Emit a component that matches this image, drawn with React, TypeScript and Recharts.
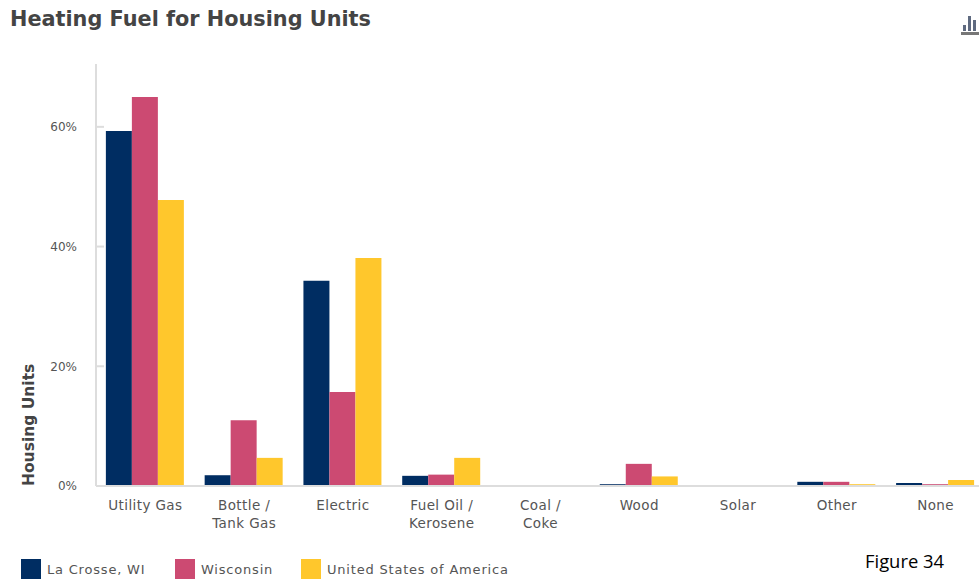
import { BarChart, Bar, XAxis, YAxis, Legend } from 'recharts'

const categories = [
  'Utility Gas',
  'Bottle /\nTank Gas',
  'Electric',
  'Fuel Oil /\nKerosene',
  'Coal /\nCoke',
  'Wood',
  'Solar',
  'Other',
  'None',
]
const laCrosse = [59.3, 1.8, 34.3, 1.7, 0, 0.3, 0, 0.7, 0.5]
const wisconsin = [65, 11, 15.7, 1.9, 0, 3.7, 0, 0.7, 0.3]
const usa = [47.8, 4.7, 38.1, 4.7, 0, 1.6, 0, 0.3, 1]
const yTicks = [0, 20, 40, 60]

const FONT = '"DejaVu Sans", sans-serif'
const TEXT = '#555'
const AXIS = '#ddd'

const data = categories.map((name, i) => ({
  name,
  laCrosse: laCrosse[i],
  wisconsin: wisconsin[i],
  usa: usa[i],
}))

const legendItems = [
  { label: 'La Crosse, WI', color: '#002d62', left: 21 },
  { label: 'Wisconsin', color: '#cc4a72', left: 175 },
  { label: 'United States of America', color: '#ffc72c', left: 301 },
]

function CategoryTick({ x, y, payload }: any) {
  const lines = String(payload.value).split('\n')
  return (
    <text
      x={x}
      y={y}
      textAnchor="middle"
      fontFamily={FONT}
      fontSize={13.5}
      letterSpacing={0.4}
      fill={TEXT}
    >
      {lines.map((line, i) => (
        <tspan key={line} x={x} dy={i === 0 ? 16 : 18}>
          {line}
        </tspan>
      ))}
    </text>
  )
}

function ChartLegend() {
  return (
    <div style={{ position: 'relative', height: 20 }}>
      {legendItems.map((item) => (
        <div
          key={item.label}
          style={{
            position: 'absolute',
            left: item.left,
            top: 0,
            display: 'flex',
            alignItems: 'center',
            whiteSpace: 'nowrap',
            fontFamily: FONT,
            fontSize: 13,
            letterSpacing: 0.8,
            color: TEXT,
          }}
        >
          <span style={{ width: 20, height: 20, background: item.color, marginRight: 6 }} />
          {item.label}
        </div>
      ))}
    </div>
  )
}

function ChartIcon() {
  return (
    <svg
      width={18}
      height={19}
      viewBox="0 0 18 19"
      style={{ position: 'absolute', left: 961, top: 16 }}
    >
      <rect x={2} y={9} width={3} height={6} fill="#5f6a80" />
      <rect x={7} y={0} width={3} height={15} fill="#5f6a80" />
      <rect x={12} y={4} width={3} height={11} fill="#5f6a80" />
      <rect x={0} y={16} width={18} height={3} fill="#777" />
    </svg>
  )
}

export default function App() {
  return (
    <div
      style={{
        position: 'absolute',
        left: 0,
        top: 0,
        width: 979,
        height: 580,
        overflow: 'hidden',
        background: '#fff',
      }}
    >
      <div
        style={{
          position: 'absolute',
          left: 10,
          top: 7,
          fontFamily: FONT,
          fontWeight: 700,
          fontSize: 20.8,
          color: '#444',
          whiteSpace: 'nowrap',
        }}
      >
        Heating Fuel for Housing Units
      </div>
      <ChartIcon />
      <BarChart
        width={985}
        height={580}
        data={data}
        margin={{ top: 64, right: 0, bottom: 0, left: 0 }}
        barCategoryGap="10%"
        barGap={0}
      >
        <XAxis
          dataKey="name"
          interval={0}
          height={74}
          tick={<CategoryTick />}
          tickLine={false}
          axisLine={{ stroke: AXIS, strokeWidth: 2 }}
        />
        <YAxis
          width={96}
          domain={[0, 70.5]}
          ticks={yTicks}
          tickFormatter={(v: number) => `${v}%`}
          tickSize={-8}
          tickMargin={27}
          tick={{ fontFamily: FONT, fontSize: 12, fill: TEXT }}
          tickLine={{ stroke: AXIS, strokeWidth: 2 }}
          axisLine={{ stroke: AXIS, strokeWidth: 2 }}
          label={{
            value: 'Housing Units',
            angle: -90,
            position: 'insideBottomLeft',
            dx: 29,
            dy: 5,
            style: { fontFamily: FONT, fontSize: 15.5, fontWeight: 700, fill: '#444' },
          }}
        />
        <Legend
          content={<ChartLegend />}
          verticalAlign="bottom"
          wrapperStyle={{ left: 0, bottom: 1, width: 979 }}
        />
        <Bar dataKey="laCrosse" name="La Crosse, WI" fill="#002d62" isAnimationActive={false} />
        <Bar dataKey="wisconsin" name="Wisconsin" fill="#cc4a72" isAnimationActive={false} />
        <Bar dataKey="usa" name="United States of America" fill="#ffc72c" isAnimationActive={false} />
      </BarChart>
      <div
        style={{
          position: 'absolute',
          left: 865,
          top: 548,
          fontFamily: '"Open Sans", sans-serif',
          fontSize: 18.4,
          color: '#000',
          whiteSpace: 'nowrap',
        }}
      >
        Figure 34
      </div>
    </div>
  )
}
